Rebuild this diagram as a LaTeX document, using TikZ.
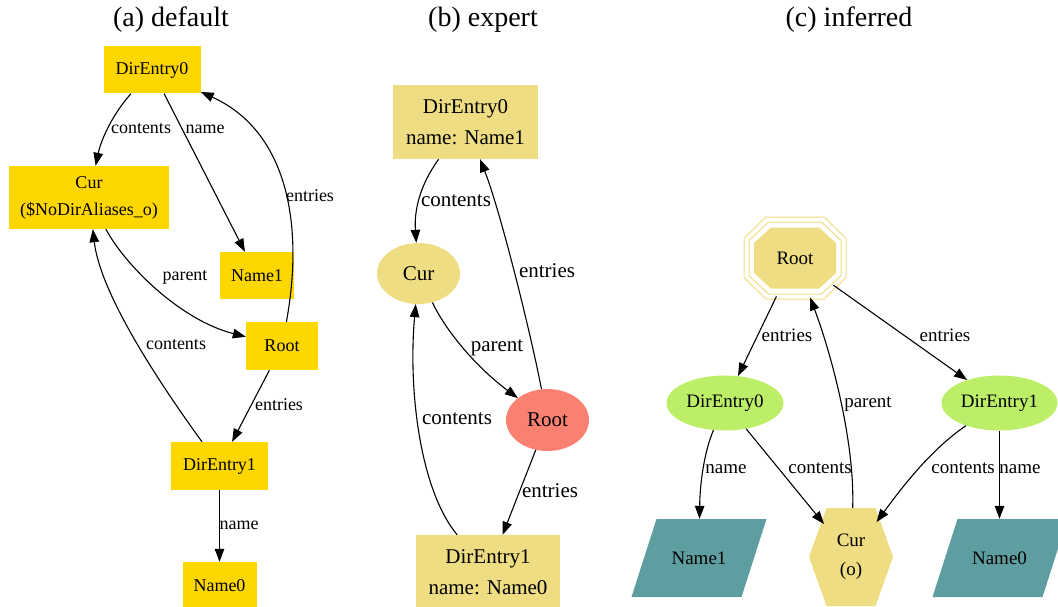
\documentclass[tikz,border=0pt]{standalone}
\usepackage{fontspec}
\setmainfont{Liberation Serif}
\usetikzlibrary{arrows.meta,shapes.geometric}
\definecolor{gvgold}{HTML}{FFD700}
\definecolor{gvlgold}{HTML}{EEDD82}
\definecolor{gvsalmon}{HTML}{FA8072}
\definecolor{gvgreen}{HTML}{BCEE68}
\definecolor{gvcadet}{HTML}{5F9EA0}

\begin{document}
\begin{tikzpicture}[x=1pt,y=1pt,yscale=-1,xscale=1,
  every node/.style={inner sep=0pt, align=center},
  fa/.style={every node/.append style={font=\fontsize{18}{27}\selectfont}},
  fb/.style={every node/.append style={font=\fontsize{21}{31}\selectfont}},
  fc/.style={every node/.append style={font=\fontsize{19}{29}\selectfont}},
  ttl/.style={font=\fontsize{28}{34}\selectfont},
  goldbox/.style={fill=gvgold, minimum width=97pt, minimum height=47pt},
  lgbox/.style={fill=gvlgold, minimum width=145pt, minimum height=74pt},
  oval/.style={ellipse, minimum width=83pt, minimum height=61pt},
  lbl/.style={text height=13pt, text depth=4pt},
  link/.style={-{Triangle[length=13pt,width=9.5pt]}, line width=1.1pt}]
\useasboundingbox (0,0) rectangle (1058,607);

%Titles
\node (ta) at (171,20) [ttl] {(a) default};
\node (tb) at (483,20) [ttl] {(b) expert};
\node (tc) at (849,20) [ttl] {(c) inferred};

%Panel (a)
\begin{scope}[fa]
\node (d0a) at (152,70) [goldbox] {DirEntry0};
\node (cura) at (89,197.5) [goldbox, minimum width=160pt, minimum height=63pt] {Cur\\(\$NoDirAliases\_o)};
\node (n1a) at (257,275.5) [goldbox, minimum width=74pt] {Name1};
\node (roota) at (282,346) [goldbox, minimum width=72pt, minimum height=48pt] {Root};
\node (d1a) at (219.5,466) [goldbox, minimum height=48pt] {DirEntry1};
\node (n0a) at (219.5,585.5) [goldbox, minimum width=74pt] {Name0};

% Connection
\draw [link] (d0a) .. controls (112,115) and (101,140) .. (cura);
\draw [link] (d0a) -- (n1a);
\draw [link] (roota) .. controls (305,220) and (285,130) .. (d0a);
\draw [link] (cura) .. controls (125,265) and (180,320) .. (roota);
\draw [link] (d1a) .. controls (150,370) and (100,290) .. (cura);
\draw [link] (roota) -- (d1a);
\draw [link] (d1a) -- (n0a);

% Text Node
\node (la1) at (141,129) [lbl] {contents};
\node (la2) at (205,129) [lbl] {name};
\node (la3) at (310,197) [lbl] {entries};
\node (la4) at (185,276) [lbl] {parent};
\node (la5) at (176,345) [lbl] {contents};
\node (la6) at (279,406) [lbl] {entries};
\node (la7) at (239,525) [lbl] {name};
\end{scope}

%Panel (b)
\begin{scope}[fb]
\node (d0b) at (465.5,122) [lgbox] {DirEntry0\\name: Name1};
\node (curb) at (418.5,273.5) [oval, fill=gvlgold] {Cur};
\node (rootb) at (547.5,420) [oval, fill=gvsalmon, minimum height=62pt] {Root};
\node (d1b) at (488,572) [lgbox, minimum width=144pt] {DirEntry1\\name: Name0};

% Connection
\draw [link] (d0b) .. controls (420,185) and (414,210) .. (curb);
\draw [link] (rootb) .. controls (530,330) and (500,210) .. (d0b);
\draw [link] (curb) .. controls (448,335) and (480,370) .. (rootb);
\draw [link] (d1b) .. controls (420,490) and (408,390) .. (curb);
\draw [link] (rootb) -- (d1b);

% Text Node
\node (lb1) at (456,202) [lbl] {contents};
\node (lb2) at (547,273) [lbl] {entries};
\node (lb3) at (497,347) [lbl] {parent};
\node (lb4) at (457,420) [lbl] {contents};
\node (lb5) at (550,493) [lbl] {entries};
\end{scope}

%Panel (c)
\begin{scope}[fc]
%Shape: Octagon
\foreach \w/\h/\a/\b in {51/41/29/19.5, 46/36/26.5/17.5}
  \draw [gvlgold, line width=1pt, shift={(795,258)}] (-\a,-\h) -- (\a,-\h) -- (\w,-\b) -- (\w,\b) -- (\a,\h) -- (-\a,\h) -- (-\w,\b) -- (-\w,-\b) -- cycle;
\fill [gvlgold, shift={(795,258)}] (-24,-30.5) -- (24,-30.5) -- (41,-15) -- (41,15) -- (24,30.5) -- (-24,30.5) -- (-41,15) -- (-41,-15) -- cycle;
%Shape: Hexagon
\fill [gvlgold, shift={(851,557)}] (-24.5,-49) -- (24.5,-49) -- (42,0) -- (24.5,49) -- (-24.5,49) -- (-42,0) -- cycle;
%Shape: Parallelogram
\foreach \cx in {699,1000}
  \fill [gvcadet, shift={(\cx,558)}] (-42.5,-39) -- (67.5,-39) -- (42.5,39) -- (-67.5,39) -- cycle;

\node (rootc) at (795,258) [ellipse, minimum width=102pt, minimum height=82pt] {Root};
\node (d0c) at (725,403) [ellipse, fill=gvgreen, minimum width=117pt, minimum height=55pt] {DirEntry0};
\node (d1c) at (999.5,403) [ellipse, fill=gvgreen, minimum width=116pt, minimum height=55pt] {DirEntry1};
\node (n1c) at (699,558) [minimum width=110pt, minimum height=78pt] {Name1};
\node (n0c) at (999.5,558) [minimum width=110pt, minimum height=78pt] {Name0};
\node (curc) at (851,557) [ellipse, minimum width=72pt, minimum height=98pt] {Cur\\(o)};

% Connection
\draw [link] (rootc) -- (d0c);
\draw [link] (rootc) -- (d1c);
\draw [link] (curc) .. controls (855,440) and (830,350) .. (rootc);
\draw [link] (d0c) .. controls (705,450) and (700,480) .. (n1c);
\draw [link] (d0c) -- (curc);
\draw [link] (d1c) .. controls (930,450) and (900,490) .. (curc);
\draw [link] (d1c) -- (n0c);

% Text Node
\node (lc1) at (787,337) [lbl] {entries};
\node (lc2) at (945,337) [lbl] {entries};
\node (lc3) at (868,403) [lbl] {parent};
\node (lc4) at (726,469) [lbl] {name};
\node (lc5) at (820,469) [lbl] {contents};
\node (lc6) at (963,469) [lbl] {contents};
\node (lc7) at (1020,469) [lbl] {name};
\end{scope}

\end{tikzpicture}
\end{document}
